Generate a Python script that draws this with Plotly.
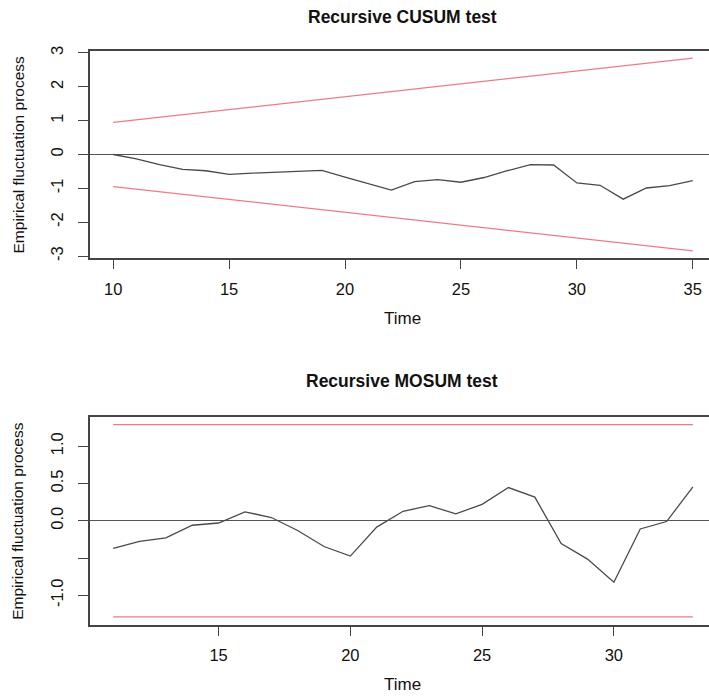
import plotly.graph_objects as go

# ---------------- data ----------------
cusum_time = list(range(10, 36))
cusum_values = [0.00, -0.13, -0.30, -0.44, -0.48, -0.59, -0.55, -0.52, -0.49, -0.47,
                -0.67, -0.87, -1.05, -0.80, -0.74, -0.82, -0.68, -0.48, -0.30, -0.31,
                -0.84, -0.91, -1.32, -0.99, -0.92, -0.77]
cusum_bound_time = [10, 35]
cusum_upper = [0.948, 2.844]
cusum_lower = [-0.948, -2.844]

mosum_time = list(range(11, 34))
mosum_values = [-0.37, -0.275, -0.23, -0.06, -0.03, 0.12, 0.044, -0.13, -0.345, -0.474,
                -0.085, 0.128, 0.203, 0.093, 0.22, 0.446, 0.318, -0.306, -0.514, -0.824,
                -0.11, -0.01, 0.455]
mosum_bound_time = [11, 33]
mosum_upper = [1.29, 1.29]
mosum_lower = [-1.29, -1.29]

cusum_yticks = [-3, -2, -1, 0, 1, 2, 3]
cusum_yticktext = ["-3", "-2", "-1", "0", "1", "2", "3"]
cusum_xticks = [10, 15, 20, 25, 30, 35]
mosum_yticks = [-1.0, -0.5, 0.0, 0.5, 1.0]
mosum_yticktext = ["-1.0", "", "0.0", "0.5", "1.0"]
mosum_xticks = [15, 20, 25, 30]

titles = ["Recursive CUSUM test", "Recursive MOSUM test"]
xlabel = "Time"
ylabel = "Empirical fluctuation process"

# ---------------- style ----------------
W, H = 709, 699
FONT = "Liberation Sans, Arial, sans-serif"
PROC = "#4a4a4a"
BOUND = "#EC7A8C"
AX = "#444444"

def py(px):
    return (H - px) / H

fig = go.Figure()
fig.add_trace(go.Scatter(x=cusum_time, y=cusum_values, mode="lines",
                         line=dict(color=PROC, width=1.3), xaxis="x", yaxis="y"))
fig.add_trace(go.Scatter(x=cusum_bound_time, y=cusum_upper, mode="lines",
                         line=dict(color=BOUND, width=1.3), xaxis="x", yaxis="y"))
fig.add_trace(go.Scatter(x=cusum_bound_time, y=cusum_lower, mode="lines",
                         line=dict(color=BOUND, width=1.3), xaxis="x", yaxis="y"))
fig.add_trace(go.Scatter(x=mosum_time, y=mosum_values, mode="lines",
                         line=dict(color=PROC, width=1.3), xaxis="x2", yaxis="y2"))
fig.add_trace(go.Scatter(x=mosum_bound_time, y=mosum_upper, mode="lines",
                         line=dict(color=BOUND, width=1.3), xaxis="x2", yaxis="y2"))
fig.add_trace(go.Scatter(x=mosum_bound_time, y=mosum_lower, mode="lines",
                         line=dict(color=BOUND, width=1.3), xaxis="x2", yaxis="y2"))

tickfont = dict(family=FONT, size=16.5, color="#111")
common_x = dict(showgrid=False, zeroline=False, showline=True, mirror=True,
                linecolor=AX, linewidth=1.6, ticks="outside", ticklen=9,
                tickcolor=AX, tickwidth=1.2, tickfont=tickfont,
                ticklabelstandoff=6)
common_y = dict(showgrid=False, zeroline=True, zerolinecolor="#555",
                zerolinewidth=1.3, showline=True, mirror=False,
                linecolor=AX, linewidth=1.6, ticks="outside", ticklen=10,
                tickcolor=AX, tickwidth=1.2, tickfont=tickfont,
                tickangle=-90, ticklabelstandoff=9)

fig.update_layout(
    width=W, height=H,
    margin=dict(l=90, r=0, t=0, b=0),
    paper_bgcolor="white", plot_bgcolor="white",
    showlegend=False,
    xaxis=dict(common_x, domain=[0, 1], range=[9, 35.70],
               tickvals=cusum_xticks, anchor="y"),
    yaxis=dict(common_y, domain=[py(256), py(46)], range=[-3.07, 3.07],
               tickvals=cusum_yticks, ticktext=cusum_yticktext, anchor="x"),
    xaxis2=dict(common_x, domain=[0, 1], range=[10.12, 33.61],
                tickvals=mosum_xticks, anchor="y2"),
    yaxis2=dict(common_y, domain=[py(626), py(416)], range=[-1.395, 1.395],
                tickvals=mosum_yticks, ticktext=mosum_yticktext, anchor="x2"),
)

def xp(px):
    return (px - 90) / (W - 90)

anns = []
# titles
for txt, yy in ((titles[0], 12), (titles[1], 380)):
    anns.append(dict(text="<b>" + txt + "</b>", x=xp(402), y=py(yy), xref="paper", yref="paper",
                     showarrow=False, xanchor="center", yanchor="middle",
                     font=dict(family=FONT, size=17.5, color="#111")))
# x labels
for yy in (317, 686):
    anns.append(dict(text=xlabel, x=xp(402), y=py(yy), xref="paper", yref="paper",
                     showarrow=False, xanchor="center", yanchor="middle",
                     font=dict(family=FONT, size=17, color="#111")))
# y labels
for yy in (151, 521):
    anns.append(dict(text=ylabel, x=xp(18), y=py(yy), xref="paper", yref="paper",
                     showarrow=False, xanchor="center", yanchor="middle", textangle=-90,
                     font=dict(family=FONT, size=15.5, color="#111")))
fig.update_layout(annotations=anns)

fig.write_html("out.html", config={"displayModeBar": False},
               post_script="document.body.style.margin='0';")
